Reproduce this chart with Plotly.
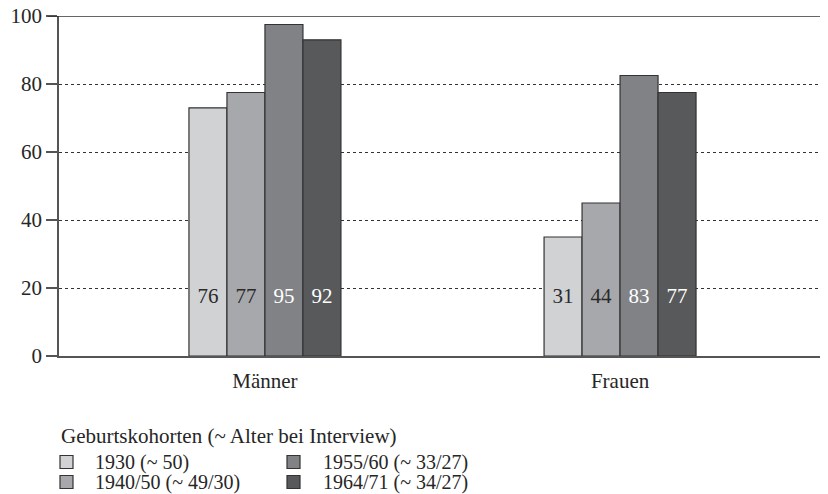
import plotly.graph_objects as go

categories = ["Männer", "Frauen"]
series_names = ["1930 (~ 50)", "1940/50 (~ 49/30)", "1955/60 (~ 33/27)", "1964/71 (~ 34/27)"]
bar_heights = [
    [73, 35],
    [77.5, 45],
    [97.5, 82.5],
    [93, 77.5],
]
bar_labels = [
    ["76", "31"],
    ["77", "44"],
    ["95", "83"],
    ["92", "77"],
]
y_ticks = [0, 20, 40, 60, 80, 100]
legend_title = "Geburtskohorten (~ Alter bei Interview)"

colors = ["#d1d2d4", "#a7a8ab", "#808285", "#58595b"]
label_colors = ["#2a2a2a", "#2a2a2a", "#ffffff", "#ffffff"]
label_y = 17
FONT = "Liberation Serif"
TXT = "#262626"

# page has an 8px body margin: figure occupies page pixels 8..828 x 8..494
OFF = 8
W, H = 828 - OFF, 494 - OFF
# plot area in page pixels: x 59..826, y 16..356
L, R, T, B = 59 - OFF, 828 - 826, 16 - OFF, 494 - 356
PW, PH = W - L - R, H - T - B


def px_x(x):
    return (x - OFF - L) / PW


def px_y(y):
    return (H - B - (y - OFF)) / PH


fig = go.Figure()
for i, name in enumerate(series_names):
    fig.add_trace(go.Bar(
        x=categories, y=bar_heights[i], name=name,
        marker=dict(color=colors[i], line=dict(color="#333333", width=1.2)),
        offsetgroup=str(i), showlegend=False, hoverinfo="skip",
    ))
for i, name in enumerate(series_names):
    fig.add_trace(go.Scatter(
        x=categories, y=[label_y] * len(categories), text=bar_labels[i],
        mode="text", textposition="middle center",
        textfont=dict(family=FONT, size=21, color=label_colors[i]),
        offsetgroup=str(i), showlegend=False, hoverinfo="skip",
    ))

# manual legend (2 columns, column-major order)
shapes = [dict(
    type="line", xref="paper", yref="y", x0=px_x(48), x1=1, y0=100, y1=100,
    line=dict(color="#333333", width=1.5),
)]
annotations = [dict(
    text=legend_title, xref="paper", yref="paper",
    x=px_x(59), y=px_y(436), xanchor="left", yanchor="middle", showarrow=False,
    font=dict(family=FONT, size=21, color=TXT),
)]
col_sq = [60, 287]
col_tx = [94, 322]
row_y = [462, 482]
for i, name in enumerate(series_names):
    c, r = divmod(i, 2)
    sx, cy = col_sq[c], row_y[r]
    shapes.append(dict(
        type="rect", xref="paper", yref="paper",
        x0=px_x(sx), x1=px_x(sx + 13), y0=px_y(cy - 6.5), y1=px_y(cy + 6.5),
        fillcolor=colors[i], line=dict(color="#333333", width=1.2),
    ))
    annotations.append(dict(
        text=name, xref="paper", yref="paper", x=px_x(col_tx[c]), y=px_y(cy),
        xanchor="left", yanchor="middle", showarrow=False, borderpad=0,
        font=dict(family=FONT, size=20, color=TXT),
    ))

fig.update_layout(
    width=W, height=H,
    margin=dict(l=L, r=R, t=T, b=B),
    paper_bgcolor="white", plot_bgcolor="white",
    barmode="group", bargap=0.572, bargroupgap=0,
    scattermode="group", scattergap=0.572,
    showlegend=False,
    font=dict(family=FONT, size=21, color=TXT),
    xaxis=dict(
        range=[-0.58, 1.58], showgrid=False, showline=True, linecolor="#555555",
        linewidth=1.5, ticks="", tickfont=dict(size=21, color=TXT),
        ticklabelstandoff=5, fixedrange=True, automargin=False,
    ),
    yaxis=dict(
        range=[0, 100], tickvals=y_ticks, showgrid=True, gridcolor="#333333",
        griddash="dot", gridwidth=1.3, showline=True, linecolor="#555555",
        linewidth=1.5, ticks="outside", ticklen=11, tickcolor="#555555",
        tickwidth=1.5, tickfont=dict(size=21, color=TXT), zeroline=False,
        fixedrange=True, automargin=False, ticklabeloverflow="allow",
    ),
    annotations=annotations,
    shapes=shapes,
)

fig.write_html("out.html")
